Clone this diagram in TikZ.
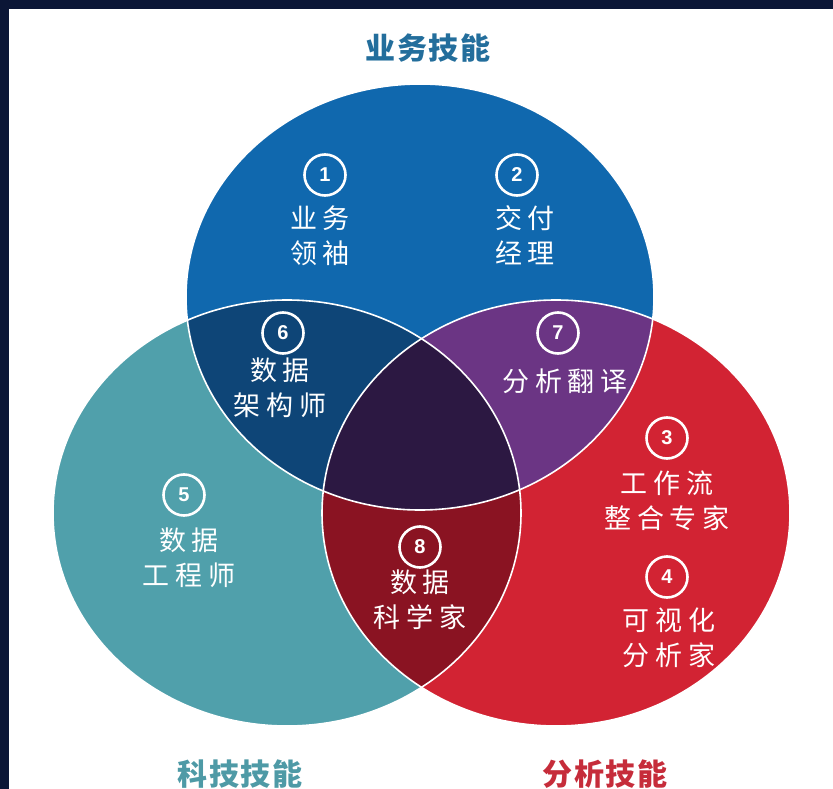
\documentclass[tikz,border=0pt]{standalone}
\usepackage{fontspec}
\usetikzlibrary{positioning}

\newfontfamily\cjk[LetterSpace=22]{Noto Sans CJK SC}
\newfontfamily\cjktitle[LetterSpace=6]{Noto Sans CJK SC}
\newfontfamily\numfont{Liberation Sans}

\definecolor{frame}{HTML}{0B1636}
\definecolor{bizblue}{HTML}{1068AE}
\definecolor{techteal}{HTML}{50A0AB}
\definecolor{anared}{HTML}{D22333}
\definecolor{archblue}{HTML}{0E4577}
\definecolor{transpurple}{HTML}{6B3584}
\definecolor{scired}{HTML}{8A1322}
\definecolor{coredark}{HTML}{2C1842}
\definecolor{biztitle}{HTML}{236E9C}
\definecolor{techtitle}{HTML}{4E9AA6}
\definecolor{anatitle}{HTML}{C62C3A}

\tikzset{
  venn/.style={x radius=234pt, y radius=213pt},
  num/.style={circle, draw=white, line width=2.6pt, minimum size=41pt, inner sep=0pt, text=white, font=\numfont\bfseries\fontsize{20}{20}\selectfont},
  lbl/.style={text=white, align=center, inner sep=0pt, font=\cjk\fontsize{27}{35}\selectfont},
  skill/.style={font=\cjktitle\bfseries\fontsize{30}{30}\selectfont}
}

\begin{document}
\begin{tikzpicture}[x=1pt, y=-1pt]
  % Frame
  \fill[frame] (0,0) rectangle (833,789);
  \fill[white] (9,9) rectangle (833,789);
  \useasboundingbox (0,0) rectangle (833,789);

  % Centres of the three circles
  \coordinate (biz) at (420,297);
  \coordinate (tech) at (287,513);
  \coordinate (ana) at (556,513);

  % Draw the three circles
  \fill[bizblue] (biz) ellipse[venn];
  \fill[techteal] (tech) ellipse[venn];
  \fill[anared] (ana) ellipse[venn];

  % Overlaps
  \begin{scope}
    \clip (biz) ellipse[venn];
    \fill[archblue] (tech) ellipse[venn];
    \fill[transpurple] (ana) ellipse[venn];
  \end{scope}
  \begin{scope}
    \clip (tech) ellipse[venn];
    \fill[scired] (ana) ellipse[venn];
    \clip (biz) ellipse[venn];
    \fill[coredark] (ana) ellipse[venn];
  \end{scope}

  % White borders
  \foreach \c in {biz, tech, ana}
    \draw[white, line width=1.6pt] (\c) ellipse[venn];

  % Numbered markers
  \node[num] (n1) at (325,175) {1};
  \node[num] (n2) at (517,175) {2};
  \node[num] (n3) at (667,438) {3};
  \node[num] (n4) at (667,577) {4};
  \node[num] (n5) at (184,495) {5};
  \node[num] (n6) at (283,333) {6};
  \node[num] (n7) at (558,333) {7};
  \node[num] (n8) at (420,547) {8};

  % Role labels
  \node[lbl, below=9pt of n1, xshift=-5pt] (r1) {业务\\领袖};
  \node[lbl, below=9pt of n2, xshift=8pt] (r2) {交付\\经理};
  \node[lbl, below=11pt of n3] (r3) {工作流\\整合专家};
  \node[lbl, below=9pt of n4, xshift=2pt] (r4) {可视化\\分析家};
  \node[lbl, below=11pt of n5, xshift=5pt] (r5) {数据\\工程师};
  \node[lbl, below=3pt of n6, xshift=-3pt] (r6) {数据\\架构师};
  \node[lbl, below=14pt of n7, xshift=7pt] (r7) {分析翻译};
  \node[lbl, below=1pt of n8] (r8) {数据\\科学家};

  % Skill titles
  \node[skill, text=biztitle] (sBiz) at (428,48) {业务技能};
  \node[skill, text=techtitle] (sTech) at (240,774) {科技技能};
  \node[skill, text=anatitle] (sAna) at (605,774) {分析技能};
\end{tikzpicture}
\end{document}
